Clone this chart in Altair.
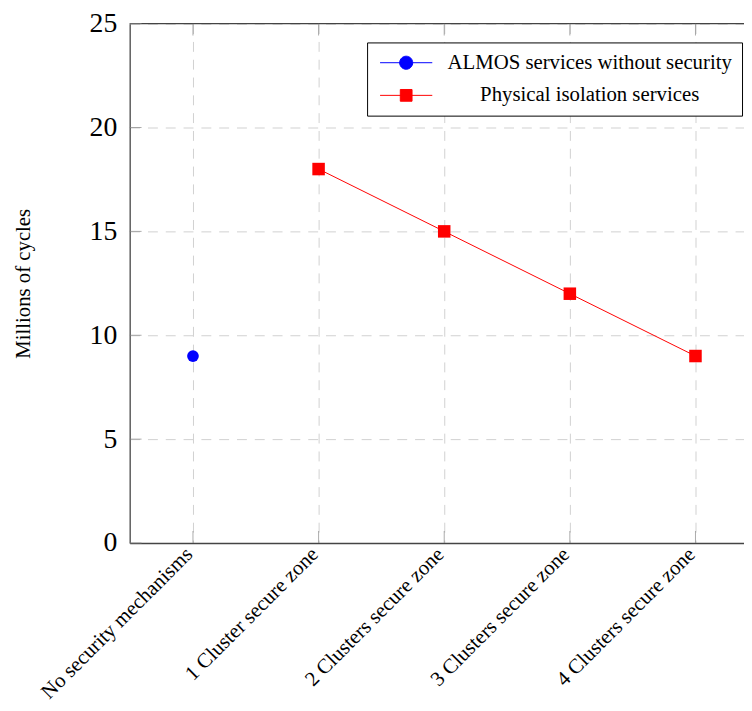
import altair as alt
import pandas as pd

categories = [
    "No security mechanisms",
    "1 Cluster secure zone",
    "2 Clusters secure zone",
    "3 Clusters secure zone",
    "4 Clusters secure zone",
]
series_names = ["ALMOS services without security", "Physical isolation services"]
almos_categories = ["No security mechanisms"]
almos_values = [9]
phys_categories = [
    "1 Cluster secure zone",
    "2 Clusters secure zone",
    "3 Clusters secure zone",
    "4 Clusters secure zone",
]
phys_values = [18, 15, 12, 9]
y_ticks = [0, 5, 10, 15, 20, 25]
y_max = [25]
y_min = [0]

series_colors = ["#0000ff", "#ff0000"]
legend_paths = [
    "M-4,0H4M-1,0A1,1,0,1,0,1,0A1,1,0,1,0,-1,0Z",
    "M-4,0H4M-0.9,-0.9H0.9V0.9H-0.9Z",
]

FONT = "Liberation Serif"
FRAME = "#444444"
TICKC = "#888888"

rows = [{"category": c, "value": v, "series": series_names[0]} for c, v in zip(almos_categories, almos_values)]
rows += [{"category": c, "value": v, "series": series_names[1]} for c, v in zip(phys_categories, phys_values)]
df = pd.DataFrame(rows)

top_df = pd.DataFrame({"category": categories, "value": y_max * len(categories)})
bot_df = pd.DataFrame({"category": categories, "value": y_min * len(categories)})
ytick_df = pd.DataFrame({"value": y_ticks})
topline_df = pd.DataFrame({"value": y_max})

x_scale = alt.Scale(type="point", domain=categories, padding=0.445, align=0.566)
y_scale = alt.Scale(domain=[0, 25], nice=False, zero=True)

x_axis = alt.Axis(
    title=None,
    labelAngle=315,
    labelAlign="right",
    labelBaseline="middle",
    labelPadding=8,
    labelOffset=-4,
    labelFont=FONT,
    labelFontSize=21,
    labelColor="black",
    labelLimit=400,
    ticks=False,
    tickSize=0,
    domain=True,
    domainColor=FRAME,
    domainWidth=1.3,
    grid=True,
    gridColor="#d0d0d0",
    gridDash=[10, 8],
    gridWidth=1,
)
y_axis = alt.Axis(
    title="Millions of cycles",
    titleFont=FONT,
    titleFontSize=21,
    titleFontWeight="normal",
    titleColor="black",
    titlePadding=56,
    values=y_ticks,
    labelFont=FONT,
    labelFontSize=28,
    labelColor="black",
    labelPadding=13,
    ticks=False,
    tickSize=0,
    domain=True,
    domainColor=FRAME,
    domainWidth=1.3,
    grid=True,
    gridColor="#d0d0d0",
    gridDash=[10, 8],
    gridWidth=1,
)

X = alt.X("category:N", scale=x_scale, axis=x_axis, sort=categories)
Y = alt.Y("value:Q", scale=y_scale, axis=y_axis)
Xn = alt.X("category:N", scale=x_scale, sort=categories)
Yn = alt.Y("value:Q", scale=y_scale)

line = (
    alt.Chart(df)
    .transform_filter(alt.datum.series == series_names[1])
    .mark_line(color=series_colors[1], strokeWidth=1)
    .encode(x=X, y=Y)
)
circles = (
    alt.Chart(df)
    .transform_filter(alt.datum.series == series_names[0])
    .mark_point(shape="circle", filled=True, size=140, color=series_colors[0], opacity=1)
    .encode(x=Xn, y=Yn)
)
squares = (
    alt.Chart(df)
    .transform_filter(alt.datum.series == series_names[1])
    .mark_point(shape="square", filled=True, size=160, color=series_colors[1], opacity=1)
    .encode(x=Xn, y=Yn)
)
top_line = alt.Chart(topline_df).mark_rule(color=FRAME, strokeWidth=1.3).encode(y=Yn)
top_ticks = (
    alt.Chart(top_df)
    .mark_tick(orient="vertical", size=12, thickness=1, yOffset=6, color=TICKC)
    .encode(x=Xn, y=Yn)
)
bot_ticks = (
    alt.Chart(bot_df)
    .mark_tick(orient="vertical", size=12, thickness=1, yOffset=-6, color=TICKC)
    .encode(x=Xn, y=Yn)
)
left_ticks = (
    alt.Chart(ytick_df)
    .mark_tick(orient="horizontal", size=12, thickness=1, color=TICKC)
    .encode(x=alt.value(6), y=Yn)
)

legend = alt.Legend(
    title=None,
    orient="none",
    legendX=240,
    legendY=19,
    padding=10,
    strokeColor="black",
    fillColor="white",
    cornerRadius=0,
    labelFont=FONT,
    labelFontSize=21,
    labelColor="black",
    labelAlign="center",
    labelOffset=175,
    labelLimit=500,
    symbolSize=174,
    symbolStrokeWidth=1,
    symbolOffset=19,
    rowPadding=11,
)
legend_layer = (
    alt.Chart(df)
    .transform_filter(alt.datum.value < 0)
    .mark_point(filled=True, opacity=1)
    .encode(
        x=Xn,
        y=Yn,
        fill=alt.Fill("series:N", scale=alt.Scale(domain=series_names, range=series_colors), legend=legend),
        stroke=alt.Stroke("series:N", scale=alt.Scale(domain=series_names, range=series_colors), legend=legend),
        shape=alt.Shape("series:N", scale=alt.Scale(domain=series_names, range=legend_paths), legend=legend),
    )
)

chart = (
    alt.layer(line, top_line, top_ticks, bot_ticks, left_ticks, circles, squares, legend_layer)
    .properties(
        width=621,
        height=525,
        autosize=alt.AutoSizeParams(type="none"),
        padding={"left": 123, "top": 12, "right": 0, "bottom": 164},
        background="white",
    )
    .configure_view(stroke=None)
)

chart.save("out.html", embed_options={"renderer": "svg", "actions": False})
